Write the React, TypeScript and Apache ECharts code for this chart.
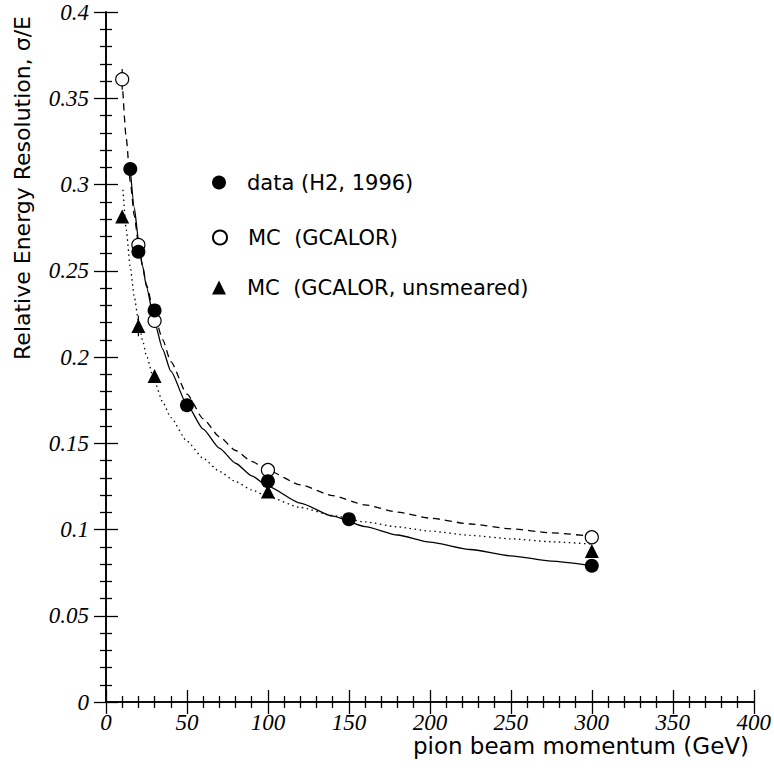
import React, { useEffect, useRef } from "react";
import * as echarts from "echarts";

// Measured points
const dataE = [15, 20, 30, 50, 100, 150, 300];
const dataRes = [0.309, 0.261, 0.227, 0.172, 0.128, 0.106, 0.079];
const dataErr = [0.003, 0.003, 0.003, 0.002, 0.002, 0.002, 0.002];

const mcE = [10, 20, 30, 100, 300];
const mcRes = [0.361, 0.265, 0.221, 0.1345, 0.0955];
const mcErr = [0.006, 0.003, 0.003, 0.003, 0.003];

const mcuE = [10, 20, 30, 100, 300];
const mcuRes = [0.2815, 0.218, 0.189, 0.122, 0.0875];
const mcuErr = [0.003, 0.006, 0.003, 0.003, 0.003];

// Fit curves
const solidE = [15, 17.5, 20, 22.5, 25, 30, 35, 40, 50, 60, 70, 80, 90, 100, 120, 140, 160, 180, 200, 225, 250, 275, 300];
const solidRes = [0.309, 0.2865, 0.2683, 0.2533, 0.2406, 0.2202, 0.2045, 0.1918, 0.1724, 0.1582, 0.1472, 0.1384, 0.1311, 0.125, 0.1153, 0.1077, 0.1017, 0.0968, 0.0927, 0.0884, 0.0847, 0.0817, 0.079];

const dashedE = [10, 12.5, 15, 17.5, 20, 22.5, 25, 30, 35, 40, 50, 60, 70, 80, 90, 100, 120, 140, 160, 180, 200, 225, 250, 275, 300];
const dashedRes = [0.3609, 0.3267, 0.3015, 0.2818, 0.266, 0.2529, 0.2418, 0.2239, 0.2101, 0.1973, 0.1785, 0.1642, 0.1538, 0.1458, 0.1395, 0.1342, 0.1259, 0.1196, 0.1143, 0.1101, 0.1066, 0.1032, 0.1004, 0.0981, 0.096];

const dottedE = [10.5, 12.5, 15, 17.5, 20, 22.5, 25, 30, 35, 40, 50, 60, 70, 80, 90, 100, 120, 140, 160, 180, 200, 225, 250, 275, 300];
const dottedRes = [0.297, 0.2738, 0.2518, 0.2348, 0.2212, 0.21, 0.2006, 0.1856, 0.174, 0.1649, 0.1512, 0.1413, 0.1337, 0.1278, 0.123, 0.119, 0.1128, 0.1081, 0.1044, 0.1015, 0.0991, 0.0966, 0.0946, 0.0929, 0.0915];

const legendNames = ["data (H2, 1996)", "MC  (GCALOR)", "MC  (GCALOR, unsmeared)"];
const xTitle = "pion beam momentum (GeV)";
const yTitle = "Relative Energy Resolution, σ/E";

const zip = (a: number[], b: number[]) => a.map((v, i) => [v, b[i]]);
const errData = (a: number[], b: number[], e: number[]) => a.map((v, i) => [v, b[i] - e[i], b[i] + e[i]]);

export default function App() {
  const ref = useRef<HTMLDivElement>(null);
  useEffect(() => {
    if (!ref.current) return;
    const chart = echarts.init(ref.current, undefined, { renderer: "svg" });
    const black = "#000";
    const tickFont = {
      fontFamily: "Liberation Serif",
      fontStyle: "italic" as const,
      fontSize: 23,
      color: black,
    };
    const axisCommon = (labels: boolean, margin: number) => ({
      axisLine: { show: true, lineStyle: { color: black, width: 1.6 } },
      axisTick: { show: true, inside: true, length: 12, lineStyle: { color: black, width: 1.3 } },
      minorTick: { show: true, splitNumber: 5, length: 6, lineStyle: { color: black, width: 1.3 } },
      splitLine: { show: false },
      minorSplitLine: { show: false },
      axisLabel: labels ? { ...tickFont, margin } : { show: false },
    });
    const errSeries = (name: string, d: number[][]) => ({
      type: "custom",
      name: name + " err",
      z: 3,
      renderItem: (params: any, api: any) => {
        const p1 = api.coord([api.value(0), api.value(1)]);
        const p2 = api.coord([api.value(0), api.value(2)]);
        return {
          type: "line",
          shape: { x1: p1[0], y1: p1[1], x2: p2[0], y2: p2[1] },
          style: { stroke: black, lineWidth: 1.2 },
        };
      },
      data: d,
      encode: { x: 0, y: [1, 2] },
      silent: true,
    });
    const legendBase = {
      orient: "vertical",
      left: 212,
      itemWidth: 14,
      itemHeight: 14,
      padding: 0,
      selectedMode: false,
      textStyle: { fontFamily: "DejaVu Sans", fontSize: 21, color: black, padding: [0, 0, 0, 16] },
    };
    const lineCommon = {
      type: "line",
      showSymbol: false,
      smooth: 0.2,
      smoothMonotone: "x",
      z: 1,
      silent: true,
    };
    chart.setOption({
      animation: false,
      backgroundColor: "#fff",
      grid: { left: 106, right: 20, top: 12, bottom: 68, containLabel: false },
      xAxis: [
        { type: "value", min: 0, max: 400, interval: 50, position: "bottom", ...axisCommon(true, 9) },
        { type: "value", min: 0, max: 400, interval: 50, position: "top", ...axisCommon(false, 0) },
      ],
      yAxis: [
        { type: "value", min: 0, max: 0.4, interval: 0.05, position: "left", ...axisCommon(true, 17) },
        { type: "value", min: 0, max: 0.4, interval: 0.05, position: "right", ...axisCommon(false, 0) },
      ],
      legend: [
        { ...legendBase, top: 172, data: [legendNames[0]] },
        { ...legendBase, top: 227, data: [legendNames[1]] },
        { ...legendBase, top: 277, data: [legendNames[2]] },
      ],
      graphic: [
        {
          type: "text",
          x: 22,
          y: 188,
          rotation: Math.PI / 2,
          style: {
            text: yTitle,
            fontFamily: "DejaVu Sans",
            fontSize: 22,
            fill: black,
            textAlign: "center",
            textVerticalAlign: "middle",
          },
        },
        {
          type: "text",
          x: 749,
          y: 746,
          style: {
            text: xTitle,
            fontFamily: "DejaVu Sans",
            fontSize: 23,
            fill: black,
            textAlign: "right",
            textVerticalAlign: "middle",
          },
        },
      ],
      series: [
        {
          ...lineCommon,
          name: "fit data",
          data: zip(solidE, solidRes),
          lineStyle: { color: black, width: 1.3, type: "solid" },
        },
        {
          ...lineCommon,
          name: "fit mc",
          data: zip(dashedE, dashedRes),
          lineStyle: { color: black, width: 1.3, type: [7, 5] },
        },
        {
          ...lineCommon,
          name: "fit mcu",
          data: zip(dottedE, dottedRes),
          lineStyle: { color: black, width: 1.3, type: [1.5, 3.5] },
        },
        errSeries("mc", errData(mcE, mcRes, mcErr)),
        errSeries("mcu", errData(mcuE, mcuRes, mcuErr)),
        errSeries("data", errData(dataE, dataRes, dataErr)),
        {
          type: "scatter",
          name: legendNames[2],
          data: zip(mcuE, mcuRes),
          symbol: "triangle",
          symbolSize: 14,
          itemStyle: { color: black, opacity: 1 },
          z: 4,
        },
        {
          type: "scatter",
          name: legendNames[1],
          data: zip(mcE, mcRes),
          symbol: "circle",
          symbolSize: 13,
          itemStyle: { color: "#fff", borderColor: black, borderWidth: 1.2, opacity: 1 },
          z: 5,
        },
        {
          type: "scatter",
          name: legendNames[0],
          data: zip(dataE, dataRes),
          symbol: "circle",
          symbolSize: 14,
          itemStyle: { color: black, opacity: 1 },
          z: 6,
        },
      ],
    });
    return () => chart.dispose();
  }, []);
  return (
    <div
      ref={ref}
      style={{ position: "fixed", left: 0, top: 0, width: 774, height: 770, background: "#fff" }}
    />
  );
}
